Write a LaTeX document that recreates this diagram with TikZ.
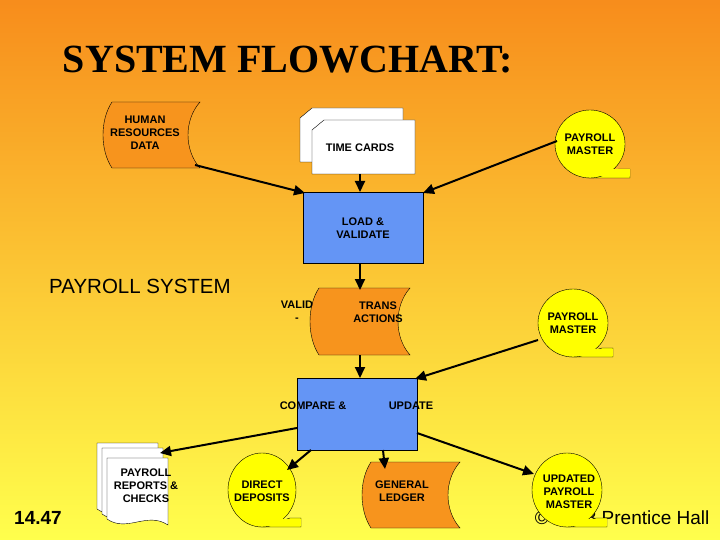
\documentclass[tikz,border=0pt]{standalone}
\usepackage{fontspec}
\setmainfont{Liberation Sans}
\newfontfamily\serifx{Liberation Serif}
\usetikzlibrary{arrows.meta}
\definecolor{orng}{HTML}{F7941D}
\definecolor{blu}{HTML}{6495F5}
\definecolor{yel}{HTML}{FFFF00}
\newcommand{\stordata}[4]{% x1 y1 x2 y2
 \filldraw[fill=orng,draw=black,thin] (#1+9,#2) -- (#3,#2) .. controls (#3-16,#2+18) and (#3-16,#4-18) .. (#3,#4) -- (#1+9,#4) .. controls (#1-3,#4-18) and (#1-3,#2+18) .. (#1+9,#2) -- cycle;}
\newcommand{\tapex}[4]{% cx cy rx ry
 \filldraw[fill=yel,draw=black,thin] (#1,#2+#4) -- (#1+#3+5,#2+#4) -- (#1+#3+5,#2+#4-9) -- (#1+#3-6,#2+#4-9) -- cycle;
 \filldraw[fill=yel,draw=black,thin] (#1,#2) ellipse [x radius=#3,y radius=#4];
 \fill[yel] (#1+4,#2+#4-1.5) rectangle (#1+#3+4.5,#2+#4-8.5);}
\newcommand{\cardx}[4]{\filldraw[fill=white,draw=black,thin] (#1+12,#2) -- (#3,#2) -- (#3,#4) -- (#1,#4) -- (#1,#2+10) -- cycle;}
\newcommand{\docx}[4]{\filldraw[fill=white,draw=black,thin] (#1,#2) -- (#3,#2) -- (#3,#4) .. controls (#1+40,#4-14) and (#1+20,#4+8) .. (#1,#4-6) -- cycle;}
\tikzset{lbl/.style={font=\bfseries\fontsize{11}{13}\selectfont,align=center,inner sep=0pt},
 arr/.style={-{Triangle[length=11pt,width=10pt]},line width=2pt},
 proc/.style={fill=blu,draw=black,thin}}
\begin{document}
\begin{tikzpicture}[x=1pt,y=-1pt]
\shade[top color=orng!95!red,bottom color=yel!70!white] (0,0) rectangle (720,540);
\useasboundingbox (0,0) rectangle (720,540);
\node[font=\serifx\bfseries\fontsize{40}{44}\selectfont] (title) at (288,60) {SYSTEM FLOWCHART:};
\node[font=\fontsize{20.5}{24}\selectfont] (ps) at (140,286) {PAYROLL SYSTEM};
\node[font=\bfseries\fontsize{19}{22}\selectfont] (num) at (38,518) {14.47};
\node[font=\fontsize{19}{22}\selectfont,anchor=east] (copy) at (713,518) {© 2008 Prentice Hall};
% inputs
\stordata{103}{102}{200}{168}
\node[lbl] (hr) at (145,133) {HUMAN\\RESOURCES\\DATA};
\cardx{300}{108}{403}{162}
\cardx{312}{120}{415}{174}
\node[lbl] (tc) at (360,148) {TIME CARDS};
\tapex{590}{144}{35}{34}
\node[lbl] (pm) at (590,144) {PAYROLL\\MASTER};
\filldraw[proc] (303,192) rectangle (423,263);
\node[lbl] (lv) at (363,228) {LOAD \&\\VALIDATE};
\stordata{310}{288}{410}{355}
\node[lbl] (v1) at (297,311) {VALID\\-};
\node[lbl] (v2) at (378,312) {TRANS\\ACTIONS};
\tapex{573}{323}{35}{34}
\node[lbl] (pm2) at (573,323) {PAYROLL\\MASTER};
\filldraw[proc] (297,378) rectangle (417,450);
\node[lbl] (cu1) at (313,406) {COMPARE \&};
\node[lbl] (cu2) at (411,406) {UPDATE};
% outputs
\docx{97}{443}{158}{515}
\docx{102}{448}{163}{520}
\docx{107}{458}{168}{525}
\node[lbl] (rep) at (146,486) {PAYROLL\\REPORTS \&\\CHECKS};
\tapex{262}{490}{34}{37}
\node[lbl] (dd) at (262,491) {DIRECT\\DEPOSITS};
\stordata{362}{462}{460}{528}
\node[lbl] (gl) at (402,491) {GENERAL\\LEDGER};
\tapex{567}{490}{35}{37}
\node[lbl] (upd) at (569,492) {UPDATED\\PAYROLL\\MASTER};
% arrows
\coordinate (a1) at (195,165); \coordinate (b1) at (305,193);
\coordinate (a2) at (360,174); \coordinate (b2) at (360,192);
\coordinate (a3) at (557,141); \coordinate (b3) at (423,193);
\coordinate (a4) at (360,263); \coordinate (b4) at (360,290);
\coordinate (a5) at (538,340); \coordinate (b5) at (415,379);
\coordinate (a6) at (360,355); \coordinate (b6) at (360,378);
\coordinate (a7) at (297,428); \coordinate (b7) at (160,453);
\coordinate (a8) at (311,450); \coordinate (b8) at (287,470);
\coordinate (a9) at (383,450); \coordinate (b9) at (385,469);
\coordinate (a10) at (417,433); \coordinate (b10) at (534,474);
\foreach \i in {1,...,10} \draw[arr] (a\i) -- (b\i);
\end{tikzpicture}
\end{document}
